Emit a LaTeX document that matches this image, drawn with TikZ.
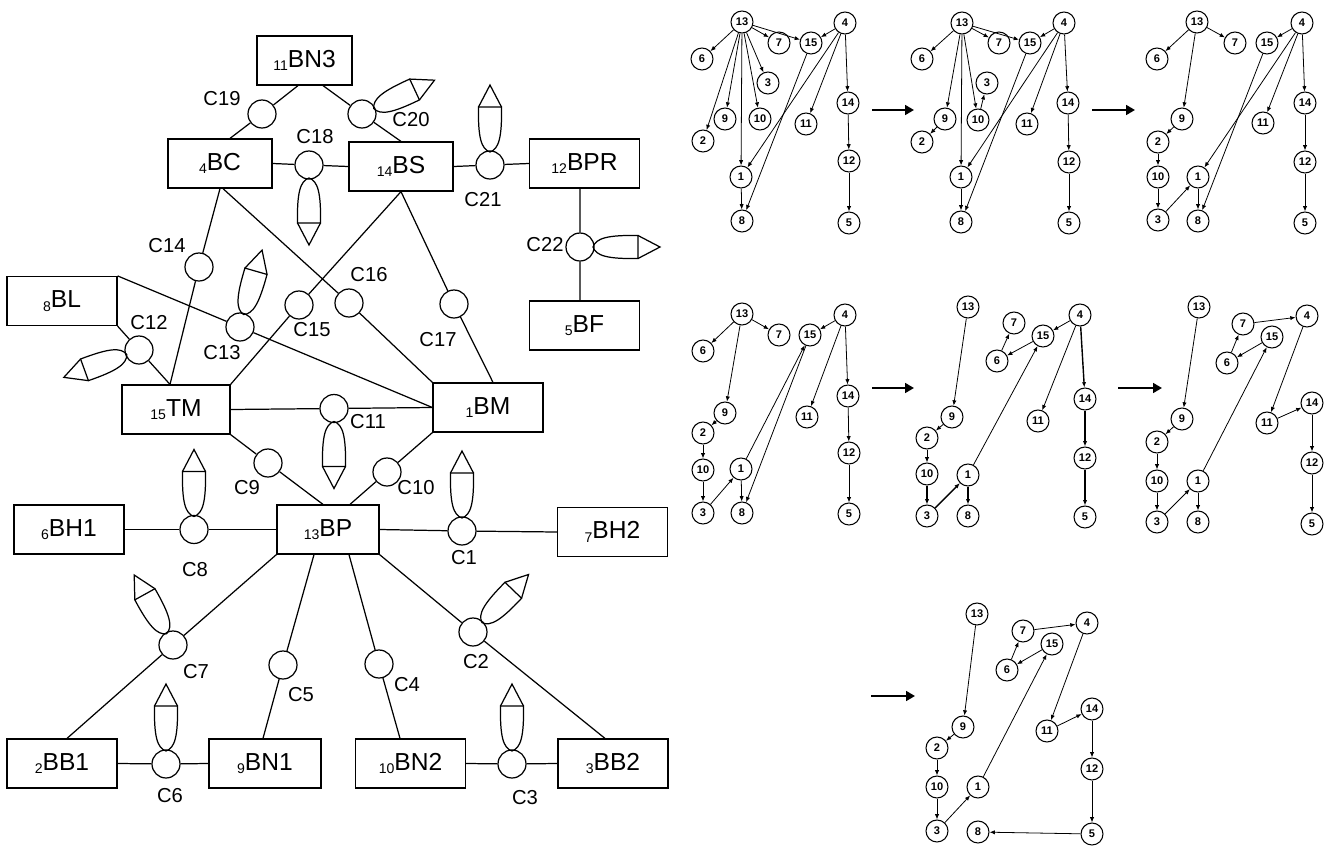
\documentclass[tikz,border=0pt]{standalone}
\usepackage{fontspec}
\setmainfont{Liberation Sans}
\usetikzlibrary{arrows.meta}
\newcommand{\blbl}[2]{\raisebox{-0.25ex}{\fontsize{8}{8}\selectfont #1}#2}

\begin{document}
\begin{tikzpicture}[x=0.02cm, y=-0.02cm, line width=0.7pt,
    bx/.style={draw, minimum width=2.2cm, minimum height=0.98cm, inner sep=0pt, font=\fontsize{14}{16}\selectfont},
    cpl/.style={draw, circle, minimum size=0.56cm, inner sep=0pt},
    clbl/.style={inner sep=0pt, font=\fontsize{11.5}{13}\selectfont},
    gn/.style={draw, circle, minimum size=0.44cm, inner sep=0pt, line width=0.6pt, font=\fontsize{6.3}{6.3}\selectfont\bfseries},
    ge/.style={line width=0.45pt, -{Latex[length=3pt,width=2.4pt]}},
    bigarrow/.style={line width=1.1pt, -{Triangle[length=5pt,width=5.5pt]}},
    petal/.pic={
      \draw (13,0) .. controls (16,9) and (28,12) .. (58,11.5) -- (58,-11.5)
        .. controls (28,-12) and (16,-9) .. (13,0) -- cycle;
      \draw (58,11.5) -- (80,0) -- (58,-11.5);
    }]
  \useasboundingbox (0,0) rectangle (1330,849);

  \node[bx, minimum width=1.9cm] (BN3) at (304.5,60.5) {\blbl{11}{BN3}};
  \node[bx, minimum width=2.08cm] (BC) at (220,163.5) {\blbl{4}{BC}};
  \node[bx, minimum width=2.08cm] (BS) at (401,166.5) {\blbl{14}{BS}};
  \node[bx] (BPR) at (584.5,163.5) {\blbl{12}{BPR}};
  \node[bx] (BF) at (584.5,325.5) {\blbl{5}{BF}};
  \node[bx] (BL) at (62,301) {\blbl{8}{BL}};
  \node[bx, minimum width=2.16cm] (TM) at (176,409.5) {\blbl{15}{TM}};
  \node[bx] (BM) at (488,407.5) {\blbl{1}{BM}};
  \node[bx, minimum width=2.04cm] (BP) at (328,529.5) {\blbl{13}{BP}};
  \node[bx] (BH1) at (69,529.5) {\blbl{6}{BH1}};
  \node[bx] (BH2) at (612.5,532) {\blbl{7}{BH2}};
  \node[bx] (BB1) at (62,763.5) {\blbl{2}{BB1}};
  \node[bx, minimum width=2.24cm] (BN1) at (265,763.5) {\blbl{9}{BN1}};
  \node[bx] (BN2) at (410.5,763.5) {\blbl{10}{BN2}};
  \node[bx] (BB2) at (613,763.5) {\blbl{3}{BB2}};

  \node[cpl] (C19) at (262,114) {};
  \node[cpl] (C20) at (362,114) {};
  \node[cpl] (C18) at (309,165) {};
  \node[cpl] (C21) at (490,165) {};
  \node[cpl] (C22) at (580,247) {};
  \node[cpl] (C14) at (199,267) {};
  \node[cpl] (C16) at (349,303) {};
  \node[cpl] (C17) at (454,304) {};
  \node[cpl] (C15) at (299,305) {};
  \node[cpl] (C13) at (240,327) {};
  \node[cpl] (C12) at (139,350) {};
  \node[cpl] (C11) at (334,408.5) {};
  \node[cpl] (C9) at (268,463) {};
  \node[cpl] (C10) at (387,472) {};
  \node[cpl] (C8) at (194,529.5) {};
  \node[cpl] (C1) at (462,531) {};
  \node[cpl] (C7) at (173,645) {};
  \node[cpl] (C5) at (283,665) {};
  \node[cpl] (C4) at (379,664) {};
  \node[cpl] (C2) at (473,632) {};
  \node[cpl] (C6) at (166,764) {};
  \node[cpl] (C3) at (512,764) {};

  \draw ([xshift=-0.13cm]BN3.south) -- (C19) -- ([xshift=0.2cm]BC.north);
  \draw ([xshift=0.37cm]BN3.south) -- (C20) -- (BS.north);
  \draw (BC.east) -- (C18) -- (BS.west);
  \draw (BS.east) -- (C21) -- (BPR.west);
  \draw ([xshift=-0.09cm]BPR.south) -- (C22) -- ([xshift=-0.09cm]BF.north);
  \draw (BC.south) -- (C14) -- ([xshift=-0.12cm]TM.north);
  \draw ([xshift=0.06cm]BC.south) -- (C16) -- (BM.north west);
  \draw (BS.south) -- (C17) -- ([xshift=0.1cm]BM.north);
  \draw (BS.south) -- (C15) -- (TM.north east);
  \draw (BL.north east) -- (C13) -- (BM.west);
  \draw (BL.south east) -- (C12) -- ([xshift=-0.12cm]TM.north);
  \draw (TM.east) -- (C11) -- (BM.west);
  \draw (TM.south east) -- (C9) -- ([xshift=-0.1cm]BP.north);
  \draw (BM.south west) -- (C10) -- ([xshift=0.44cm]BP.north);
  \draw (BH1.east) -- (C8) -- (BP.west);
  \draw (BP.east) -- (C1) -- (BH2.west);
  \draw (BP.south west) -- (C7) -- ([xshift=0.1cm]BB1.north);
  \draw ([xshift=-0.28cm]BP.south) -- (C5) -- ([xshift=-0.04cm]BN1.north);
  \draw ([xshift=0.42cm]BP.south) -- (C4) -- ([xshift=-0.21cm]BN2.north);
  \draw (BP.south east) -- (C2) -- ([xshift=-0.16cm]BB2.north);
  \draw (BB1.east) -- (C6) -- (BN1.west);
  \draw (BN2.east) -- (C3) -- (BB2.west);

  \pic[rotate=25] at (C20) {petal};
  \pic[rotate=-90] at (C18) {petal};
  \pic[rotate=90] at (C21) {petal};
  \pic at (C22) {petal};
  \pic[rotate=74] at (C13) {petal};
  \pic[rotate=200] at (C12) {petal};
  \pic[rotate=-90] at (C11) {petal};
  \pic[rotate=90] at (C8) {petal};
  \pic[rotate=90] at (C1) {petal};
  \pic[rotate=119] at (C7) {petal};
  \pic[rotate=46] at (C2) {petal};
  \pic[rotate=90] at (C6) {petal};
  \pic[rotate=90] at (C3) {petal};

  \node[clbl] (lC19) at (222,99) {C19};
  \node[clbl] (lC20) at (411,120) {C20};
  \node[clbl] (lC18) at (315,137) {C18};
  \node[clbl] (lC21) at (483,200) {C21};
  \node[clbl] (lC22) at (545,245) {C22};
  \node[clbl] (lC14) at (167,246) {C14};
  \node[clbl] (lC16) at (369,275) {C16};
  \node[clbl] (lC17) at (438,340) {C17};
  \node[clbl] (lC15) at (312,330) {C15};
  \node[clbl] (lC13) at (222,353) {C13};
  \node[clbl] (lC12) at (149,323) {C12};
  \node[clbl] (lC11) at (368,422) {C11};
  \node[clbl] (lC9) at (247,488) {C9};
  \node[clbl] (lC10) at (416,488) {C10};
  \node[clbl] (lC8) at (195,570) {C8};
  \node[clbl] (lC7) at (196,672) {C7};
  \node[clbl] (lC6) at (170,796) {C6};
  \node[clbl] (lC5) at (301,695) {C5};
  \node[clbl] (lC4) at (407,685) {C4};
  \node[clbl] (lC2) at (476,662) {C2};
  \node[clbl] (lC1) at (464,558) {C1};
  \node[clbl] (lC3) at (525,798) {C3};

  \foreach \n/\x/\y in {13/742/22, 6/702/59, 7/779/43, 15/811/43, 4/845/23, 3/768/83, 9/725/119, 10/760/119,
      11/806/124, 14/848/103, 2/703/141, 1/741/177, 12/849/161, 8/742/221, 5/849/223}
    \node[gn] (a\n) at (\x,\y) {\n};
  \foreach \s/\t in {13/6, 13/7, 13/15, 13/3, 13/9, 13/10, 13/2, 13/1, 1/8, 15/8, 4/15, 4/1, 4/11, 4/14, 14/12, 12/5}
    \draw[ge] (a\s) -- (a\t);

  \foreach \n/\x/\y in {13/962/23, 6/922/59, 7/999/43, 15/1030/43, 4/1064/23, 3/987/83, 9/945/119, 10/978/120,
      11/1027/124, 14/1068/103, 2/922/142, 1/961/177, 12/1069/162, 8/961/222, 5/1069/223}
    \node[gn] (b\n) at (\x,\y) {\n};
  \foreach \s/\t in {13/6, 13/7, 13/15, 13/9, 13/10, 13/1, 9/2, 10/3, 1/8, 15/8, 4/15, 4/1, 4/11, 4/14, 14/12, 12/5}
    \draw[ge] (b\s) -- (b\t);

  \foreach \n/\x/\y in {13/1197/22, 6/1157/59, 7/1235/43, 15/1267/43, 4/1302/23, 9/1182/119, 11/1263/123,
      14/1305/103, 2/1158/142, 10/1158/177, 1/1198/177, 12/1305/162, 3/1158/220, 8/1198/221, 5/1305/223}
    \node[gn] (c\n) at (\x,\y) {\n};
  \foreach \s/\t in {13/6, 13/7, 13/9, 9/2, 2/10, 10/3, 3/1, 1/8, 15/8, 4/15, 4/1, 4/11, 4/14, 14/12, 12/5}
    \draw[ge] (c\s) -- (c\t);

  \foreach \n/\x/\y in {13/742/314, 6/703/351, 7/779/335, 15/810/335, 4/845/315, 9/725/413, 11/807/417,
      14/848/396, 2/703/433, 10/703/470, 1/741/469, 12/849/453, 3/703/513, 8/742/513, 5/849/514}
    \node[gn] (d\n) at (\x,\y) {\n};
  \foreach \s/\t in {13/6, 13/7, 13/9, 9/2, 2/10, 10/3, 3/1, 1/15, 15/8, 1/8, 4/15, 4/11, 4/14, 14/12, 12/5}
    \draw[ge] (d\s) -- (d\t);

  \foreach \n/\x/\y in {13/968/307, 7/1014/323, 15/1043/336, 4/1080/315, 6/997/361, 9/952/417, 11/1038/421,
      14/1085/399, 2/927/438, 10/927/474, 1/968/475, 12/1085/458, 3/927/516, 8/968/516, 5/1085/517}
    \node[gn] (e\n) at (\x,\y) {\n};
  \foreach \s/\t in {13/9, 9/2, 2/10, 1/15, 4/15, 15/6, 6/7, 4/11}
    \draw[ge] (e\s) -- (e\t);
  \foreach \s/\t in {10/3, 3/1, 1/8, 4/14, 14/12, 12/5}
    \draw[ge, line width=0.8pt] (e\s) -- (e\t);

  \foreach \n/\x/\y in {13/1199/307, 7/1243/324, 4/1307/316, 15/1272/337, 6/1227/363, 14/1312/403, 9/1182/419,
      11/1267/423, 2/1157/442, 12/1312/463, 10/1157/481, 1/1198/481, 3/1157/522, 8/1198/522, 5/1312/524}
    \node[gn] (f\n) at (\x,\y) {\n};
  \foreach \s/\t in {13/9, 9/2, 2/10, 10/3, 3/1, 1/8, 1/15, 15/6, 6/7, 7/4, 4/11, 11/14, 14/12, 12/5}
    \draw[ge] (f\s) -- (f\t);

  \foreach \n/\x/\y in {13/977/614, 7/1023/631, 4/1087/623, 15/1052/644, 6/1007/670, 14/1092/709, 9/963/727,
      11/1047/731, 2/937/748, 12/1092/769, 10/937/787, 1/978/787, 3/937/831, 8/978/832, 5/1092/834}
    \node[gn] (g\n) at (\x,\y) {\n};
  \foreach \s/\t in {13/9, 9/2, 2/10, 10/3, 3/1, 1/15, 15/6, 6/7, 7/4, 4/11, 11/14, 14/12, 12/5, 5/8}
    \draw[ge] (g\s) -- (g\t);

  \coordinate (s1) at (872,110); \coordinate (t1) at (914,110);
  \coordinate (s2) at (1092,110); \coordinate (t2) at (1135,110);
  \coordinate (s3) at (872,388); \coordinate (t3) at (914,388);
  \coordinate (s4) at (1118,388); \coordinate (t4) at (1162,388);
  \coordinate (s5) at (871,696); \coordinate (t5) at (915,696);
  \foreach \i in {1,...,5}
    \draw[bigarrow] (s\i) -- (t\i);
\end{tikzpicture}
\end{document}
